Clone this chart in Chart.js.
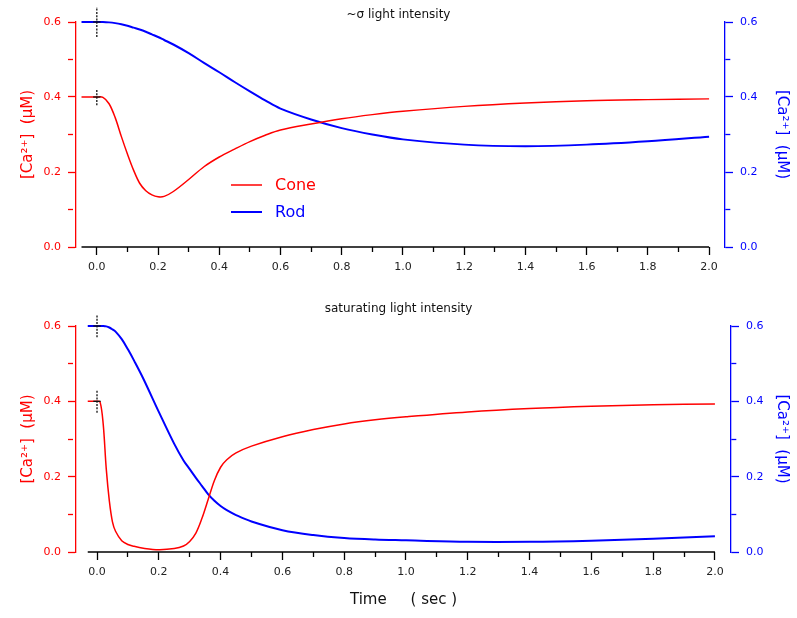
<!DOCTYPE html>
<html>
<head>
<meta charset="utf-8">
<script src="https://cdn.jsdelivr.net/npm/chart.js@4.4.1/dist/chart.umd.min.js"></script>
<style>
  body { margin: 0; background: #fff; }
  canvas { position: absolute; left: 0; }
</style>
</head>
<body>
<canvas id="dimPanel" width="797" height="290" style="top:0"></canvas>
<canvas id="satPanel" width="797" height="328" style="top:290px"></canvas>
<script>
// ~sigma flash: time (sec) and free Ca2+ (uM)
const timeDim = [-0.05, 0, 0.02, 0.04, 0.06, 0.08, 0.1, 0.12, 0.14, 0.16, 0.18, 0.2, 0.22, 0.25,
  0.3, 0.35, 0.4, 0.45, 0.5, 0.55, 0.6, 0.7, 0.8, 0.9, 1.0, 1.2, 1.4, 1.6, 1.8, 2.0];
const coneDim = [0.400, 0.400, 0.399, 0.382, 0.345, 0.295, 0.248, 0.205, 0.170, 0.150, 0.139, 0.134, 0.135, 0.148,
  0.180, 0.214, 0.240, 0.261, 0.281, 0.298, 0.312, 0.328, 0.342, 0.353, 0.362, 0.375, 0.384, 0.390, 0.393, 0.395];
const rodDim = [0.600, 0.600, 0.600, 0.599, 0.597, 0.594, 0.590, 0.585, 0.580, 0.574, 0.567, 0.560, 0.552, 0.540,
  0.517, 0.491, 0.466, 0.440, 0.415, 0.391, 0.369, 0.340, 0.317, 0.300, 0.287, 0.273, 0.269, 0.273, 0.282, 0.294];

// saturating flash
const timeSat = [-0.03, 0, 0.01, 0.02, 0.03, 0.04, 0.05, 0.06, 0.08, 0.1, 0.12, 0.15, 0.2, 0.25, 0.28, 0.3,
  0.32, 0.34, 0.36, 0.38, 0.4, 0.42, 0.45, 0.5, 0.6, 0.7, 0.8, 0.9, 1.0, 1.2, 1.4, 1.6, 1.8, 2.0];
const coneSat = [0.400, 0.400, 0.398, 0.340, 0.220, 0.135, 0.080, 0.055, 0.030, 0.020, 0.015, 0.010, 0.006, 0.009, 0.016, 0.028,
  0.050, 0.090, 0.140, 0.190, 0.225, 0.245, 0.263, 0.281, 0.306, 0.325, 0.340, 0.351, 0.359, 0.372, 0.381, 0.387, 0.391, 0.393];
const rodSat = [0.600, 0.600, 0.600, 0.600, 0.599, 0.596, 0.591, 0.585, 0.565, 0.538, 0.508, 0.460, 0.372, 0.287, 0.243, 0.220,
  0.197, 0.175, 0.153, 0.136, 0.122, 0.111, 0.098, 0.081, 0.058, 0.045, 0.037, 0.033, 0.031, 0.027, 0.027, 0.030, 0.035, 0.042];

const xTicks = [0, 0.1, 0.2, 0.3, 0.4, 0.5, 0.6, 0.7, 0.8, 0.9, 1.0, 1.1, 1.2, 1.3, 1.4, 1.5, 1.6, 1.7, 1.8, 1.9, 2.0];
const yTicks = [0, 0.1, 0.2, 0.3, 0.4, 0.5, 0.6];
const seriesNames = ['Cone', 'Rod'];
const panelTitles = ['~σ light intensity', 'saturating light intensity'];
const flashTime = 0;

const RED = 'rgb(255,0,0)';
const BLUE = 'rgb(0,0,255)';
const caLabel = '[Ca²⁺]  (µM)';

Chart.defaults.font.family = "'DejaVu Sans', Verdana, sans-serif";

const isMajor = v => Math.round(v * 10) % 2 === 0;
const minorDash = ctx => (isMajor(ctx.tick.value) ? [] : [5, 30]);
const setTicks = values => axis => { axis.ticks = values.map(v => ({ value: v })); };

// x axis line only spans the recorded time window
const xAxisLine = {
  id: 'xAxisLine',
  afterDraw(chart, args, opts) {
    const x = chart.scales.x;
    const y = chart.chartArea.bottom;
    const ctx = chart.ctx;
    ctx.save();
    ctx.strokeStyle = '#000';
    ctx.lineWidth = 1.3;
    ctx.beginPath();
    ctx.moveTo(x.getPixelForValue(opts.from), y);
    ctx.lineTo(x.getPixelForValue(opts.to), y);
    ctx.stroke();
    ctx.restore();
  }
};

// small in-plot key for the two traces
const curveKey = {
  id: 'curveKey',
  afterDraw(chart, args, opts) {
    if (!opts.show) return;
    const ctx = chart.ctx;
    ctx.save();
    ctx.font = "16px 'DejaVu Sans'";
    ctx.textBaseline = 'middle';
    chart.data.datasets.filter(d => d.inKey).forEach((d, i) => {
      const y = opts.y + i * opts.rowGap;
      ctx.strokeStyle = d.borderColor;
      ctx.lineWidth = d.borderWidth;
      ctx.beginPath();
      ctx.moveTo(opts.x, y);
      ctx.lineTo(opts.x + 31, y);
      ctx.stroke();
      ctx.fillStyle = d.borderColor;
      ctx.fillText(d.label, opts.x + 44, y + 1);
    });
    ctx.restore();
  }
};

function flashMarker(axisId, level, half) {
  const common = { yAxisID: axisId, borderColor: '#111', borderWidth: 1.3, pointRadius: 0, clip: false };
  return [
    { ...common, borderDash: [2, 1.3],
      data: [{ x: flashTime, y: level - half }, { x: flashTime, y: level + half }] },
    { ...common, data: [{ x: flashTime - 0.012, y: level }, { x: flashTime + 0.012, y: level }] }
  ];
}

function buildPanel(id, p) {
  const cone = p.time.map((t, i) => ({ x: t, y: p.cone[i] }));
  const rod = p.time.map((t, i) => ({ x: t, y: p.rod[i] }));
  const yAxis = (color, position, width, titlePad) => ({
    type: 'linear',
    position,
    min: 0,
    max: 0.6,
    afterBuildTicks: setTicks(yTicks),
    afterFit: s => { s.width = width; },
    border: { color, width: 1.3 },
    grid: { drawOnChartArea: false, tickLength: 8, tickColor: color, tickWidth: 1.3, tickBorderDash: minorDash },
    ticks: {
      color, padding: 7, font: { size: 11 }, autoSkip: false,
      callback: v => (isMajor(v) ? v.toFixed(1) : '')
    },
    title: { display: true, text: caLabel, color, font: { size: 15 }, padding: { top: titlePad, bottom: 0 } }
  });
  const trace = (label, data, axisId, color, width) => ({
    label, inKey: true, data, yAxisID: axisId, borderColor: color, borderWidth: width,
    pointRadius: 0, tension: 0.35, clip: false
  });

  return new Chart(document.getElementById(id), {
    type: 'line',
    data: {
      datasets: [
        ...flashMarker('yRod', p.rod[0], p.markRod),
        ...flashMarker('yCone', p.cone[0], p.markCone),
        trace(seriesNames[0], cone, 'yCone', RED, 1.5),
        trace(seriesNames[1], rod, 'yRod', BLUE, 2)
      ]
    },
    options: {
      responsive: false,
      animation: false,
      events: [],
      layout: { padding: 0 },
      scales: {
        x: {
          type: 'linear',
          min: -0.068,
          max: 2.052,
          afterBuildTicks: setTicks(xTicks),
          afterFit: s => { s.height = p.xAxisHeight; },
          border: { display: false },
          grid: { drawOnChartArea: false, tickLength: 8, tickColor: '#000', tickWidth: 1.3, tickBorderDash: minorDash },
          ticks: {
            color: '#222', padding: 6, font: { size: 11 }, autoSkip: false, maxRotation: 0,
            callback: v => (isMajor(v) ? v.toFixed(1) : '')
          },
          title: {
            display: p.showTime, text: 'Time     ( sec )', color: '#111',
            font: { size: 15 }, padding: { top: 0, bottom: 9 }
          }
        },
        yCone: yAxis(RED, 'left', 76, 19),
        yRod: yAxis(BLUE, 'right', p.rightWidth, 6)
      },
      plugins: {
        legend: { display: false },
        tooltip: { enabled: false },
        title: {
          display: true, text: p.title, color: '#111',
          font: { size: 12, weight: 'normal' }, padding: p.titlePad
        },
        xAxisLine: { from: p.time[0], to: p.time[p.time.length - 1] },
        curveKey: { show: p.showKey, x: 231, y: 185, rowGap: 27 }
      }
    },
    plugins: [xAxisLine, curveKey]
  });
}

buildPanel('dimPanel', {
  time: timeDim, cone: coneDim, rod: rodDim, title: panelTitles[0],
  titlePad: { top: 7.6, bottom: 0 }, xAxisHeight: 43, rightWidth: 72,
  markRod: 0.04, markCone: 0.022, showKey: true, showTime: false
});

buildPanel('satPanel', {
  time: timeSat, cone: coneSat, rod: rodSat, title: panelTitles[1],
  titlePad: { top: 11.8, bottom: 9.8 }, xAxisHeight: 66, rightWidth: 66,
  markRod: 0.03, markCone: 0.03, showKey: false, showTime: true
});
</script>
</body>
</html>
